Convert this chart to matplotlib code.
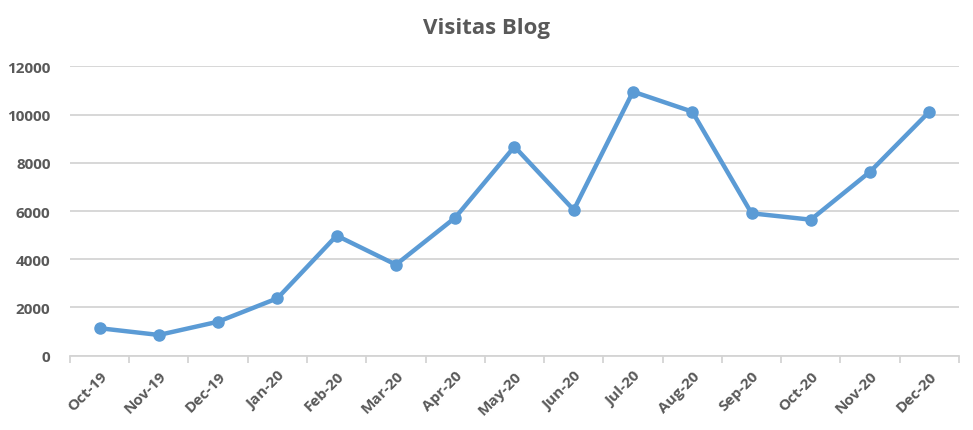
import matplotlib.pyplot as plt

months = ['Oct-19', 'Nov-19', 'Dec-19', 'Jan-20', 'Feb-20', 'Mar-20', 'Apr-20', 'May-20',
          'Jun-20', 'Jul-20', 'Aug-20', 'Sep-20', 'Oct-20', 'Nov-20', 'Dec-20']
visitas = [1140, 860, 1410, 2380, 4980, 3775, 5725, 8670,
           6045, 10950, 10120, 5905, 5640, 7630, 10120]

plt.rcParams['font.family'] = ['Open Sans', 'DejaVu Sans']
grey = '#595959'

fig = plt.figure(figsize=(9.73, 4.31), dpi=100)
ax = fig.add_axes([0.0719, 0.1724, 0.9137, 0.6714])

x = list(range(len(months)))
ax.plot(x, visitas, color='#5B9BD5', linewidth=3.2, marker='o', markersize=8,
        solid_capstyle='round', zorder=3)

ax.set_xlim(-0.5, len(months) - 0.5)
ax.set_ylim(0, 12000)
ax.set_yticks(range(0, 12001, 2000))
ax.grid(axis='y', color='#D4D4D4', linewidth=1.3)
ax.set_axisbelow(True)

for s in ['top', 'right', 'left']:
    ax.spines[s].set_visible(False)
ax.spines['bottom'].set_color('#D4D4D4')
ax.spines['bottom'].set_linewidth(1.3)

# category boundary ticks
ax.set_xticks([i - 0.5 for i in range(len(months) + 1)], minor=False)
ax.set_xticklabels([])
ax.tick_params(axis='x', which='major', length=5, color='#D4D4D4', width=1.3)
ax.set_xticks(x, minor=True)
ax.set_xticklabels(months, minor=True, rotation=45, ha='right', va='top',
                   rotation_mode='anchor', fontsize=11, fontweight='bold', color=grey)
ax.tick_params(axis='x', which='minor', length=0, pad=9)
ax.tick_params(axis='y', length=0, pad=14, labelsize=11, labelcolor=grey)
for lbl in ax.get_yticklabels():
    lbl.set_fontweight('bold')

fig.text(0.5, 0.935, 'Visitas Blog', ha='center', va='center', fontsize=16,
         fontweight='bold', color=grey)

fig.savefig('out.png', dpi=100)
